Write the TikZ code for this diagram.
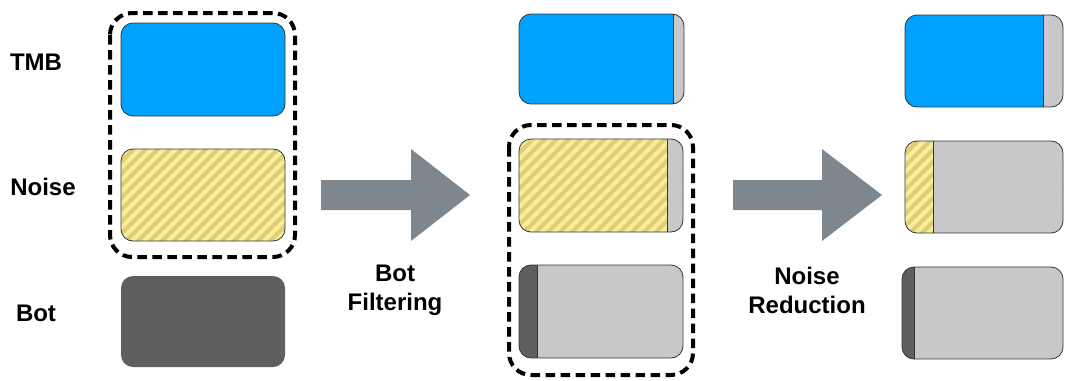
\documentclass[tikz,border=0pt]{standalone}
\usepackage{fontspec}
\setmainfont{Liberation Sans}

\definecolor{tmbblue}{HTML}{00A2FF}
\definecolor{noiselight}{HTML}{FBEC98}
\definecolor{noisedark}{HTML}{DDCE7A}
\definecolor{botgray}{HTML}{5F5F5F}
\definecolor{restgray}{HTML}{C8C8CA}
\definecolor{arrowgray}{HTML}{7F878E}

\tikzset{
  outline/.style={draw=black!80, line width=0.8pt, rounded corners=12pt},
  group/.style={draw=black, line width=4pt, dash pattern=on 9.5pt off 5.5pt, rounded corners=22pt},
  lbl/.style={font=\bfseries\fontsize{24}{29}\selectfont, align=center},
  bigarrow/.style={fill=arrowgray},
}

% yellow hatching over the rectangle (x1,y1)--(x2,y2)
\newcommand{\noisefill}[4]{%
  \fill[noiselight] (#1,#2) rectangle (#3,#4);
  \foreach \s in {-120,-108,...,180}
    \draw[noisedark, line width=4.2pt] (#1+\s,#4+5) -- ++(115,-115);
}

% box with a left part and a right part, split at x = #5
\newcommand{\splitbox}[7]{%
  \begin{scope}
    \clip[rounded corners=12pt] (#1,#2) rectangle (#3,#4);
    #6
    #7
  \end{scope}
  \draw[black!80, line width=0.8pt] (#5,#2) -- (#5,#4);
  \draw[outline] (#1,#2) rectangle (#3,#4);
}

\begin{document}
\begin{tikzpicture}[x=1pt,y=-1pt]
  \useasboundingbox (0,0) rectangle (1065,380);

  % row labels
  \node[lbl] (tmb)   at (36,62)  {TMB};
  \node[lbl] (noise) at (43,187) {Noise};
  \node[lbl] (bot)   at (36,313) {Bot};

  % raw traffic
  \fill[tmbblue] [rounded corners=12pt] (121,23) rectangle (285,116);
  \draw[outline] (121,23) rectangle (285,116);
  \begin{scope}
    \clip[rounded corners=12pt] (121,149) rectangle (285,241);
    \noisefill{121}{149}{285}{241}
  \end{scope}
  \draw[outline] (121,149) rectangle (285,241);
  \fill[botgray] [rounded corners=12pt] (121,276) rectangle (285,367);
  \draw[group] (110,13) rectangle (295,257);

  % bot filtering
  \fill[bigarrow] (321,180) -- (411,180) -- (411,149) -- (470,195)
    -- (411,241) -- (411,210) -- (321,210) -- cycle;
  \node[lbl] (filter) at (395,290) {Bot\\Filtering};

  \splitbox{519}{14}{684}{104}{673}
    {\fill[tmbblue] (519,14) rectangle (673,104);}
    {\fill[restgray] (673,14) rectangle (684,104);}
  \splitbox{519}{139}{683}{232}{667}
    {\noisefill{519}{139}{667}{232}}
    {\fill[restgray] (667,139) rectangle (683,232);}
  \splitbox{519}{265}{683}{358}{537}
    {\fill[botgray] (519,265) rectangle (537,358);}
    {\fill[restgray] (537,265) rectangle (683,358);}
  \draw[group] (509,125) rectangle (693,375);

  % noise reduction
  \fill[bigarrow] (733,180) -- (822,180) -- (822,149) -- (882,195)
    -- (822,241) -- (822,210) -- (733,210) -- cycle;
  \node[lbl] (reduce) at (807,290) {Noise\\Reduction};

  \splitbox{905}{15}{1063}{107}{1043}
    {\fill[tmbblue] (905,15) rectangle (1043,107);}
    {\fill[restgray] (1043,15) rectangle (1063,107);}
  \splitbox{905}{141}{1063}{233}{933}
    {\noisefill{905}{141}{933}{233}}
    {\fill[restgray] (933,141) rectangle (1063,233);}
  \splitbox{902}{267}{1063}{359}{914}
    {\fill[botgray] (902,267) rectangle (914,359);}
    {\fill[restgray] (914,267) rectangle (1063,359);}
\end{tikzpicture}
\end{document}
